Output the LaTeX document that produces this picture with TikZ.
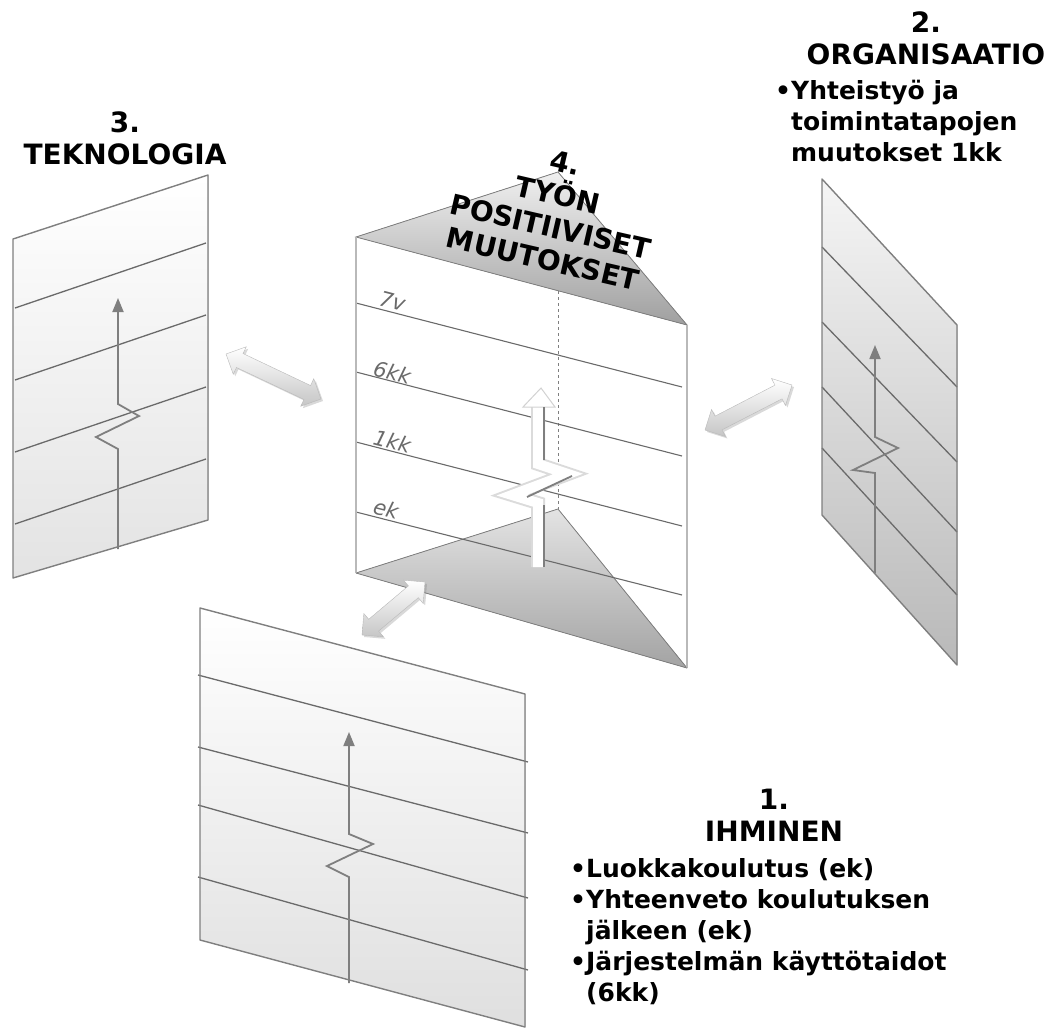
\documentclass[tikz,border=0pt]{standalone}
\usepackage{fontspec}
\setmainfont{DejaVu Sans}
\usetikzlibrary{arrows.meta, calc, shapes.arrows, shadows}
\definecolor{paneEdge}{HTML}{7F7F7F}
\definecolor{paneLine}{HTML}{6A6A6A}
\definecolor{labelGrey}{HTML}{6A6A6A}
\tikzset{
    pane edge/.style={draw=paneEdge, line width=1.4pt, line join=round},
    pane line/.style={draw=paneLine, line width=1.3pt},
    rise arrow/.style={draw=paneEdge, line width=1.8pt, -{Triangle[length=14pt, width=11pt]}},
    two way/.style={double arrow, double arrow head extend=7.5pt, inner xsep=0pt, inner ysep=7.5pt, draw=gray!55, top color=white, bottom color=gray!45, drop shadow={opacity=0.3, shadow xshift=2pt, shadow yshift=-2pt}},
    title text/.style={font=\bfseries\fontsize{28}{32}\selectfont, align=center, inner sep=0pt},
    note text/.style={font=\bfseries\fontsize{25}{31}\selectfont, align=left, anchor=north west, inner sep=0pt},
    level label/.style={font=\itshape\fontsize{21}{21}\selectfont, text=labelGrey, rotate=-14.5, anchor=base west, inner sep=0pt},
}

\begin{document}
\begin{tikzpicture}[x=1pt, y=-1pt]
    \useasboundingbox (0,0) rectangle (1055,1028);

    % 3. teknologia
    \fill[top color=white, bottom color=gray!22] (13,239) -- (208,175) -- (208,520) -- (13,578) -- cycle;
    \foreach \yl/\yr in {308/243, 380/315, 452/387, 524/459}
        \draw[pane line] (15,\yl) -- (206,\yr);
    \draw[pane edge] (13,239) -- (208,175) -- (208,520) -- (13,578) -- cycle;
    \draw[rise arrow] (118,549) -- (118,449) -- (96,437) -- (139,416) -- (118,404) -- (118,298);

    % 2. organisaatio
    \fill[top color=gray!8, bottom color=gray!55] (822,179) -- (957,325) -- (957,665) -- (822,515) -- cycle;
    \foreach \yl/\yr in {247/387, 322/462, 387/532, 448/595}
        \draw[pane line] (822,\yl) -- (957,\yr);
    \draw[pane edge] (822,179) -- (957,325) -- (957,665) -- (822,515) -- cycle;
    \draw[rise arrow] (875,573) -- (875,473) -- (853,470) -- (898,448) -- (875,437) -- (875,345);

    % 1. ihminen
    \fill[top color=white, bottom color=gray!25] (200,608) -- (525,694) -- (525,1027) -- (200,940) -- cycle;
    \foreach \yl/\yr in {675/762, 747/833, 805/898, 877/970}
        \draw[pane line] (198,\yl) -- (528,\yr);
    \draw[pane edge] (200,608) -- (525,694) -- (525,1027) -- (200,940) -- cycle;
    \draw[rise arrow] (349,983) -- (349,877) -- (327,866) -- (373,844) -- (349,834) -- (349,732);

    % 4. tyon positiiviset muutokset
    \coordinate (roof) at (558,172);
    \coordinate (roof-front) at (558,291);
    \coordinate (floor) at (558,509);
    \coordinate (tl) at (356,237);
    \coordinate (tr) at (687,325);
    \coordinate (br) at (687,668);
    \coordinate (bl) at (356,573);
    \fill[top color=gray!22, bottom color=gray!72] (bl) -- (floor) -- (br) -- cycle;
    \fill[top color=gray!12, bottom color=gray!75] (tl) -- (roof) -- (tr) -- cycle;
    \draw[paneEdge, line width=0.8pt] (tl) -- (roof) -- (tr) -- cycle;
    \draw[paneEdge, line width=0.8pt] (bl) -- (floor) -- (br);
    \draw[paneEdge, dashed, line width=0.8pt] (roof-front) -- (floor);
    \foreach \yl/\yr in {303/387, 372/456, 442/526, 512/595}
        \draw[pane line, line width=1.1pt] (356,\yl) -- (682,\yr);
    \draw[gray!55, line width=2.6pt] (tl) -- (bl);
    \draw[gray!55, line width=2.6pt] (tr) -- (br);
    \draw[paneEdge, line width=0.8pt] (bl) -- (br);
    \node[level label] (lv7v) at (378,305) {7v};
    \node[level label] (lv6kk) at (372,375) {6kk};
    \node[level label] (lv1kk) at (372,444) {1kk};
    \node[level label] (lvek) at (372,513) {ek};

    % valkoinen nousu
    \draw[gray!28, line width=14pt, line join=miter] (538,567) -- (538,503) -- (512,495) -- (568,474) -- (538,464) -- (538,404);
    \draw[white, line width=10pt, line join=miter] (538,567) -- (538,503) -- (512,495) -- (568,474) -- (538,464) -- (538,404);
    \fill[white, draw=gray!35, line width=1pt] (523,407) -- (541,388) -- (555,407) -- cycle;
    \draw[paneEdge, line width=1.8pt] (544,567) -- (544,505);
    \draw[paneEdge, line width=1.8pt] (527,497) -- (572,476);
    \draw[paneEdge, line width=1.8pt] (544,460) -- (544,407);

    % nuolet
    \coordinate (tek-r) at (226,354);
    \coordinate (tyo-l) at (321,399);
    \coordinate (tyo-r) at (705,430);
    \coordinate (org-l) at (792,385);
    \coordinate (tyo-b) at (425,582);
    \coordinate (ihm-t) at (362,635);
    \foreach \a/\b in {tek-r/tyo-l, tyo-r/org-l, ihm-t/tyo-b}
        \path let \p1 = ($(\b)-(\a)$), \n1 = {atan2(\y1,\x1)}, \n2 = {veclen(\x1,\y1)} in
            node[two way, rotate=\n1, minimum height=\n2] at ($(\a)!0.5!(\b)$) {};

    % tekstit
    \node[title text] (tek-title) at (125,138) {3.\\TEKNOLOGIA};
    \node[title text] (org-title) at (926,38) {2.\\ORGANISAATIO};
    \node[note text] (org-note) at (775,80) {•Yhteistyö ja\\\hphantom{•}toimintatapojen\\\hphantom{•}muutokset 1kk};
    \node[title text] (ihm-title) at (774,815) {1.\\IHMINEN};
    \node[note text] (ihm-note) at (570,858) {•Luokkakoulutus (ek)\\•Yhteenveto koulutuksen\\\hphantom{•}jälkeen (ek)\\•Järjestelmän käyttötaidot\\\hphantom{•}(6kk)};
    \node[title text, rotate=-13, font=\bfseries\fontsize{28}{33}\selectfont] (tyo-title) at (554,211) {4.\\TYÖN\\POSITIIVISET\\MUUTOKSET};
\end{tikzpicture}
\end{document}
